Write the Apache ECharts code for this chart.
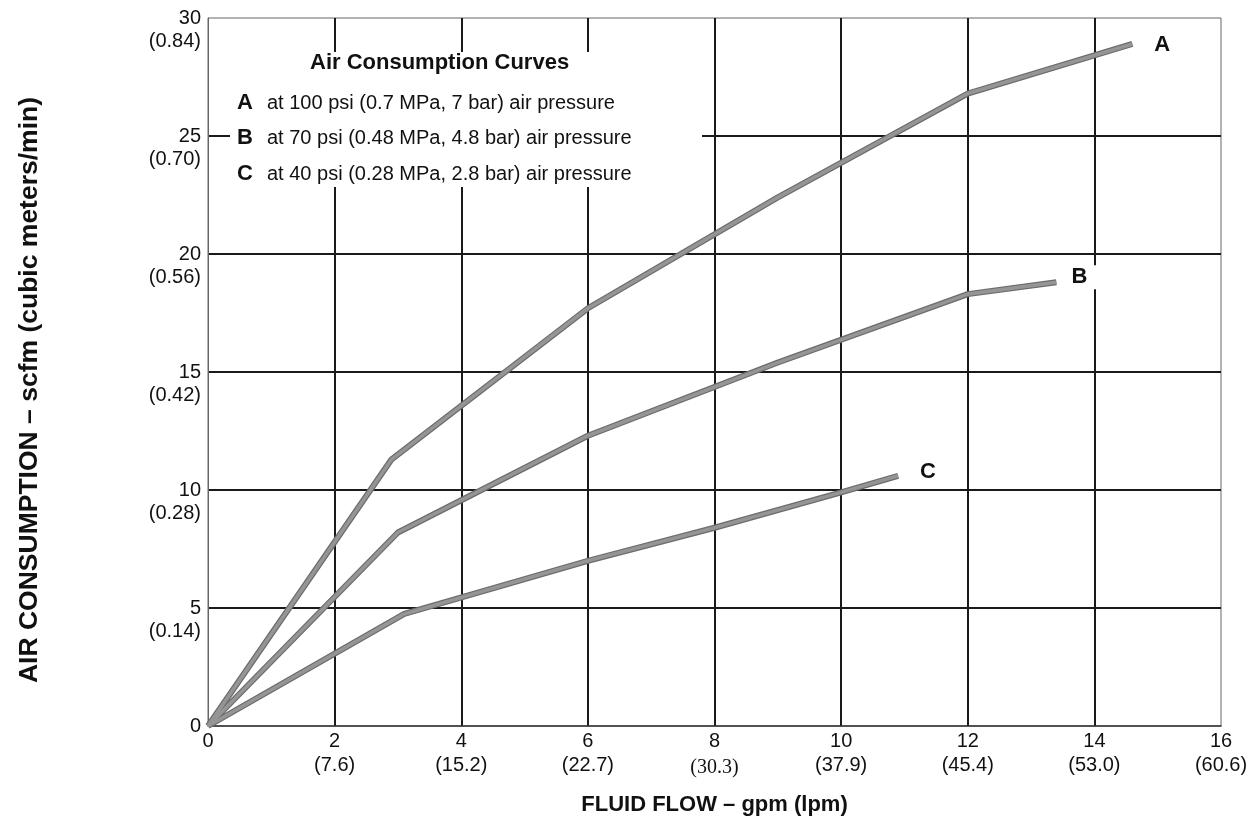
<!DOCTYPE html>
<html>
<head>
<meta charset="utf-8">
<script src="https://cdn.jsdelivr.net/npm/echarts@6/dist/echarts.min.js"></script>
<style>
html,body{margin:0;padding:0;background:#fff;}
#c{width:1254px;height:821px;}
</style>
</head>
<body>
<div id="c"></div>
<script>
// ---- data ----
const xTicks = [0, 2, 4, 6, 8, 10, 12, 14, 16];
const xLpm = ['', '(7.6)', '(15.2)', '(22.7)', '(30.3)', '(37.9)', '(45.4)', '(53.0)', '(60.6)'];
const yTicks = [0, 5, 10, 15, 20, 25, 30];
const yM3 = ['', '(0.14)', '(0.28)', '(0.42)', '(0.56)', '(0.70)', '(0.84)'];
const curveA = [[0, 0], [2.9, 11.3], [6, 17.7], [9, 22.4], [12, 26.8], [14.6, 28.9]];
const curveB = [[0, 0], [3, 8.2], [6, 12.3], [9, 15.4], [12, 18.3], [13.4, 18.8]];
const curveC = [[0, 0], [3.1, 4.75], [6, 7.0], [8, 8.4], [10, 9.9], [10.9, 10.6]];
const curveNames = ['A', 'B', 'C'];
const legendTitle = 'Air Consumption Curves';
const legendTexts = [
  'at 100 psi (0.7 MPa, 7 bar) air pressure',
  'at 70 psi (0.48 MPa, 4.8 bar) air pressure',
  'at 40 psi (0.28 MPa, 2.8 bar) air pressure'
];
const xTitle = 'FLUID FLOW – gpm (lpm)';
const yTitle = 'AIR CONSUMPTION – scfm (cubic meters/min)';

const FONT = 'Liberation Sans, Arial, Helvetica, sans-serif';
const chart = echarts.init(document.getElementById('c'), null, {renderer: 'canvas'});

function outerSeries(data) {
  return {
    type: 'line', data: data, symbol: 'none', z: 3, silent: true,
    lineStyle: {color: '#6c6c6c', width: 6, join: 'round', cap: 'butt'}
  };
}
function innerSeries(data, name, endCfg) {
  return {
    type: 'line', name: name, data: data, symbol: 'none', z: 4, silent: true,
    lineStyle: {color: '#959595', width: 3.6, join: 'round', cap: 'butt'},
    endLabel: Object.assign({
      show: true, formatter: name, color: '#111', fontFamily: FONT,
      fontWeight: 'bold', fontSize: 22, lineHeight: 24
    }, endCfg)
  };
}

const legendRows = legendTexts.map(function (t, i) {
  const y = [102, 137, 173][i];
  return [
    {type: 'text', z: 20, left: 237, top: y - 10,
      style: {text: curveNames[i], font: 'bold 22px ' + FONT, fill: '#111'}},
    {type: 'text', z: 20, left: 267, top: y - 9,
      style: {text: t, font: '20px ' + FONT, fill: '#111'}}
  ];
}).reduce(function (a, b) { return a.concat(b); }, []);

const option = {
  backgroundColor: '#fff',
  animation: false,
  grid: {left: 208, right: 33, top: 18, bottom: 89, show: true,
    borderColor: '#666', borderWidth: 1, backgroundColor: 'transparent'},
  xAxis: {
    type: 'value', min: 0, max: 16, interval: 2,
    name: xTitle, nameLocation: 'middle', nameGap: 68,
    nameTextStyle: {fontFamily: FONT, fontWeight: 'bold', fontSize: 22, color: '#111'},
    axisLine: {show: true, lineStyle: {color: '#333', width: 1.5}},
    axisTick: {show: false},
    splitLine: {show: true, showMinLine: false, showMaxLine: false,
      lineStyle: {color: '#1a1a1a', width: 2}},
    axisLabel: {
      margin: 3, fontFamily: FONT, fontSize: 20, color: '#111', lineHeight: 24,
      formatter: function (v) {
        const i = xTicks.indexOf(v);
        if (i <= 0) return '{n|' + v + '}';
        const p = xLpm[i];
        return '{n|' + v + '}\n' + (v === 8 ? '{s|' + p + '}' : '{n|' + p + '}');
      },
      rich: {
        n: {fontFamily: FONT, fontSize: 20, lineHeight: 24, color: '#111'},
        s: {fontFamily: 'Liberation Serif, Times New Roman, serif', fontSize: 20, lineHeight: 24, color: '#111', padding: [5, 0, 0, 0]}
      }
    }
  },
  yAxis: [{
    type: 'value', min: 0, max: 30, interval: 5,
    axisLine: {show: true, lineStyle: {color: '#666', width: 1}},
    axisTick: {show: false},
    splitLine: {show: true, showMinLine: false, showMaxLine: false,
      lineStyle: {color: '#1a1a1a', width: 2}},
    axisLabel: {margin: 7, fontFamily: FONT, fontSize: 20, color: '#111',
      formatter: function (v) { return String(v); }}
  }, {
    type: 'value', min: 0, max: 30, interval: 5, position: 'left',
    axisLine: {show: false}, axisTick: {show: false}, splitLine: {show: false},
    axisLabel: {margin: 7, fontFamily: FONT, fontSize: 20, color: '#111',
      verticalAlign: 'top', lineHeight: 46,
      formatter: function (v) { return yM3[yTicks.indexOf(v)] || ''; }}
  }],
  graphic: [
    {type: 'rect', z: 15, shape: {x: 230, y: 52, width: 472, height: 135},
      style: {fill: '#fff'}},
    {type: 'text', z: 20, left: 310, top: 52,
      style: {text: legendTitle, font: 'bold 22px ' + FONT, fill: '#111'}},
    {type: 'text', z: 20, x: 30, y: 390, rotation: Math.PI / 2,
      style: {text: yTitle, font: 'bold 26.5px ' + FONT, fill: '#111',
        align: 'center', verticalAlign: 'middle'}}
  ].concat(legendRows),
  series: [
    outerSeries(curveA), innerSeries(curveA, 'A', {distance: 22, offset: [0, 1]}),
    outerSeries(curveB), innerSeries(curveB, 'B', {distance: 6, offset: [0, -5],
      backgroundColor: '#fff', padding: [0, 9]}),
    outerSeries(curveC), innerSeries(curveC, 'C', {distance: 22, offset: [0, -4]})
  ]
};
chart.setOption(option);
</script>
</body>
</html>
